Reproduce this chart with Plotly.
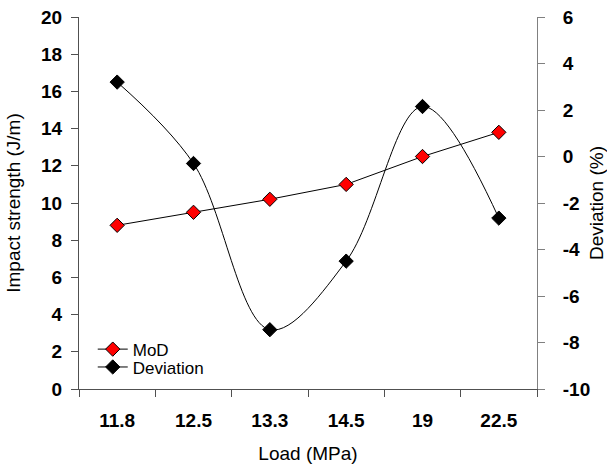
import plotly.graph_objects as go

loads = ["11.8", "12.5", "13.3", "14.5", "19", "22.5"]
mod_values = [8.8, 9.5, 10.2, 11.0, 12.5, 13.8]
deviation_values = [3.2, -0.3, -7.45, -4.5, 2.15, -2.65]

left_ticks = list(range(0, 21, 2))
right_ticks = list(range(-10, 7, 2))
right_tick_labels = [str(v).replace("\u2212", "-") for v in right_ticks]

FONT = "Liberation Sans, Arial, sans-serif"
AXC = "#505050"

fig = go.Figure()
fig.add_trace(go.Scatter(
    x=loads, y=mod_values, name="MoD", mode="lines+markers",
    line=dict(color="black", width=1),
    marker=dict(symbol="diamond", size=11, color="#ff0000", line=dict(color="black", width=1)),
    xaxis="x", yaxis="y", legend="legend",
))
fig.add_trace(go.Scatter(
    x=loads, y=deviation_values, name="Deviation", mode="lines+markers",
    line=dict(color="black", width=1, shape="spline", smoothing=1),
    marker=dict(symbol="diamond", size=11, color="black", line=dict(color="black", width=1)),
    xaxis="x", yaxis="y2", legend="legend2",
))

tickfont = dict(family=FONT, size=19, color="black", weight="bold")
titlefont = dict(family=FONT, size=19, color="black")
legfont = dict(family=FONT, size=17, color="black")

fig.update_layout(
    width=607, height=464,
    margin=dict(l=79, r=70, t=17, b=75, autoexpand=False),
    paper_bgcolor="white", plot_bgcolor="white",
    showlegend=True,
    legend=dict(
        x=0.03, y=0.106, xanchor="left", yanchor="middle",
        bgcolor="rgba(0,0,0,0)", font=legfont, itemwidth=30,
    ),
    legend2=dict(
        x=0.03, y=0.058, xanchor="left", yanchor="middle",
        bgcolor="rgba(0,0,0,0)", font=legfont, itemwidth=30,
    ),
    xaxis=dict(
        type="category", categoryorder="array", categoryarray=loads,
        range=[-0.5, 5.5], tickson="boundaries", ticks="outside", ticklen=7,
        tickcolor=AXC, showline=True, linecolor=AXC, linewidth=1,
        showgrid=False, zeroline=False, tickfont=tickfont,
        ticklabelstandoff=14, automargin=False,
        title=dict(text="Load (MPa)", font=titlefont, standoff=16),
        anchor="y",
    ),
    yaxis=dict(
        range=[0, 20], tickvals=left_ticks, ticks="outside", ticklen=7,
        tickcolor=AXC, showline=True, linecolor=AXC, linewidth=1,
        showgrid=False, zeroline=False, tickfont=tickfont,
        ticklabelstandoff=5, automargin=False,
        title=dict(text="Impact strength (J/m)", font=titlefont, standoff=15),
    ),
    yaxis2=dict(
        range=[-10, 6], tickvals=right_ticks, ticktext=right_tick_labels,
        ticks="outside", ticklen=7,
        tickcolor="#808080", showline=True, linecolor="#808080", linewidth=1,
        showgrid=False, zeroline=False, tickfont=tickfont,
        ticklabelstandoff=14, automargin=False,
        overlaying="y", side="right", anchor="x",
        title=dict(text="Deviation (%)", font=titlefont, standoff=6),
    ),
    # overlay axes to draw the inside half of the crossing tick marks
    xaxis2=dict(
        type="linear", range=[-0.5, 5.5], tick0=-0.5, dtick=1,
        ticks="inside", ticklen=7, tickcolor=AXC, showticklabels=False,
        showline=False, showgrid=False, zeroline=False, automargin=False,
        overlaying="x", anchor="y", side="bottom",
    ),
    yaxis3=dict(
        range=[0, 20], tickvals=left_ticks, ticks="inside", ticklen=7,
        tickcolor=AXC, showticklabels=False, showline=False, automargin=False,
        showgrid=False, zeroline=False, overlaying="y", side="left", anchor="x",
    ),
    yaxis4=dict(
        range=[-10, 6], tickvals=right_ticks, ticks="inside", ticklen=7,
        tickcolor="#808080", showticklabels=False, showline=False, automargin=False,
        showgrid=False, zeroline=False, overlaying="y", side="right", anchor="x",
    ),
)

fig.write_html("out.html")
